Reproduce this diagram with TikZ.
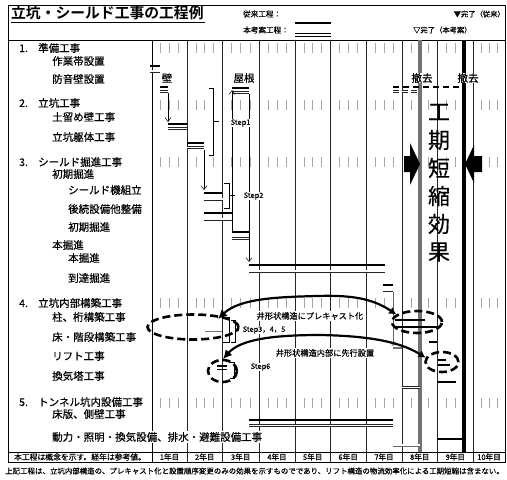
\documentclass[tikz,border=0pt]{standalone}
\usepackage{fontspec}
\setmainfont{Noto Sans CJK JP}[FakeBold=0.4]
\newfontfamily\titlefont{Noto Sans CJK JP Bold}
\usetikzlibrary{arrows.meta,shapes.geometric}
\begin{document}
\begin{tikzpicture}[x=1pt,y=-1pt,
  conv/.style={line width=1.7pt, black},
  prop/.style={line width=0.8pt, double distance=1.4pt, black!85},
  colline/.style={line width=0.7pt, black!85},
  tickln/.style={line width=0.6pt, black!35},
  lab/.style={anchor=west, inner sep=0pt, font=\fontsize{10.5}{12}\selectfont},
  smalltxt/.style={inner sep=0pt, font=\fontsize{7.6}{9}\selectfont},
  steplab/.style={inner sep=0.5pt, anchor=west, fill=white, font=\fontsize{7.4}{8}\selectfont},
  captext/.style={inner sep=1pt, fill=white, font=\fontsize{8.2}{9}\selectfont},
  depline/.style={line width=0.5pt, -{Straight Barb[length=4pt,width=6pt,line width=0.5pt]}},
  brk/.style={line width=0.8pt},
  dell/.style={draw, ellipse, inner sep=0pt, line width=2.6pt, dash pattern=on 8pt off 4pt},
  curv/.style={line width=2.2pt, {Latex[length=7pt,width=8pt]}-{Latex[length=9pt,width=9pt]}},
  marklab/.style={inner sep=0.5pt, fill=white, font=\fontsize{10.5}{12}\selectfont}
]
\useasboundingbox (0,0) rectangle (507,480);
\fill[white] (0,0) rectangle (507,480);

% frame
\draw[line width=1pt] (8,5) rectangle (505,462);
\draw[line width=0.9pt] (8,40) -- (505,40);
\draw[line width=0.8pt] (8,452) -- (505,452);
\draw[line width=0.8pt] (152,40) -- (152,462);
\foreach \cx in {187,222.5,259,295,330.5,366,402,437.5,473}
  \draw[colline] (\cx,40) -- (\cx,462);

% ticks
\foreach \a/\b in {152/187,187/222.5,222.5/259,259/295,295/330.5,330.5/366,366/402,402/437.5,437.5/473,473/505}
  \foreach \ty in {48,105,162,303,403}
    \foreach \f in {0.25,0.5,0.75}
      \draw[tickln] ({\a+(\b-\a)*\f},\ty-5) -- ++(0,10);

% title and legend
\node[anchor=west, inner sep=0pt, font=\fontsize{14.8}{16}\titlefont] (title) at (11,13) {立坑・シールド工事の工程例};
\draw[line width=1pt] (11,22.5) -- (205,22.5);
\node[smalltxt, anchor=west] (h1) at (243,14) {従来工程：};
\node[smalltxt, anchor=west] (h2) at (243,30) {本考案工程：};
\draw[line width=1.8pt] (295,23) -- (331,23);
\draw[line width=0.8pt, double distance=2.4pt] (295,35) -- (331,35);
\node[smalltxt, anchor=east, font=\fontsize{7.3}{9}\selectfont] (h3) at (505,14) {▼完了（従来）};
\node[smalltxt, anchor=west, font=\fontsize{7.3}{9}\selectfont] (h4) at (413,30) {▽完了（本考案）};

% completion lines
\draw[line width=3.4pt, black!55] (420,40) -- (420,452);
\draw[line width=3.4pt, black] (464,40) -- (464,452);

% labels
\node[lab] (s1) at (19,48) {\makebox[19pt][l]{1.}準備工事};
\node[lab] (a1) at (52,61) {作業帯設置};
\node[lab] (a2) at (52,79) {防音壁設置};
\node[lab] (s2) at (19,103) {\makebox[19pt][l]{2.}立坑工事};
\node[lab] (b1) at (52,117) {土留め壁工事};
\node[lab] (b2) at (52,137) {立坑躯体工事};
\node[lab] (s3) at (19,162) {\makebox[19pt][l]{3.}シールド掘進工事};
\node[lab] (c1) at (52,174) {初期掘進};
\node[lab] (c2) at (68,190) {シールド機組立};
\node[lab] (c3) at (68,209) {後続設備他整備};
\node[lab] (c4) at (68,227) {初期掘進};
\node[lab] (c5) at (52,245) {本掘進};
\node[lab] (c6) at (68,258) {本掘進};
\node[lab] (c7) at (68,278) {到達掘進};
\node[lab] (s4) at (19,303) {\makebox[19pt][l]{4.}立坑内部構築工事};
\node[lab] (d1) at (52,317) {柱、桁構築工事};
\node[lab] (d2) at (52,337) {床・階段構築工事};
\node[lab] (d3) at (52,356) {リフト工事};
\node[lab] (d4) at (52,376) {換気塔工事};
\node[lab] (s5) at (19,402) {\makebox[19pt][l]{5.}トンネル坑内設備工事};
\node[lab] (e1) at (52,414) {床版、側壁工事};
\node[lab, fill=white, inner sep=1pt] (e2) at (51,437) {動力・照明・換気設備、排水・避難設備工事};

% bars (conventional = solid, proposed = double)
\draw[conv] (150,66) -- (160,66);   \draw[prop] (150,71) -- (160,71);
\draw[conv] (160,87) -- (168,87);   \draw[prop] (160,91.5) -- (168,91.5);
\draw[conv] (232,88) -- (249,88);   \draw[prop] (232,92.5) -- (249,92.5);
\draw[conv] (168,124) -- (187,124); \draw[prop] (168,128.5) -- (187,128.5);
\draw[conv] (187,143) -- (204,143); \draw[prop] (187,147.5) -- (204,147.5);
\draw[conv] (204,193) -- (222,193); \draw[prop] (204,199) -- (223,199);
\draw[conv] (204,213) -- (232,213); \draw[prop] (204,219) -- (232,219);
\draw[conv] (232,232) -- (249,232); \draw[prop] (232,238.5) -- (249,238.5);
\draw[conv] (249,265) -- (385,265); \draw[prop] (249,271) -- (385,271);
\draw[conv] (383,285) -- (393,285); \draw[prop] (383,290) -- (393,290);
\draw[conv] (249,420) -- (393,420); \draw[prop] (249,425.5) -- (393,425.5);
\draw[conv] (437,439) -- (463,439); \draw[prop, black!60] (393,445) -- (420,445);
% removal of sound barrier
\draw[conv, line width=1.4pt, dash pattern=on 6pt off 4pt] (393,87) -- (463,87);
\draw[prop, dash pattern=on 6pt off 3pt] (393,91.5) -- (420,91.5);
% year 8-9 items
\draw[line width=1.1pt] (395,320) -- (425,320);
\draw[line width=1.1pt] (395,327) -- (437,327);
\draw[conv, line width=1.3pt] (429,342) -- (437,342);
\draw[line width=1.1pt] (438,360) -- (446,360);
\draw[line width=1.1pt] (438,365) -- (450,365);
\draw[conv, line width=1.3pt] (437,382) -- (456,382);
\draw[prop] (402,387.5) -- (420,387.5);
\draw[line width=1.4pt, black!55] (393,348) -- (402,348);
% year 2-3 items (Step3-6)
\draw[prop, black!55] (205,330) -- (222,330);
\draw[line width=0.9pt] (222,317) -- (229,317) -- (229,342) -- (222,342);
\draw[line width=1.1pt] (217,366) -- (227,366);
\draw[line width=1.1pt] (217,369.5) -- (227,369.5);

% dependencies
\draw[depline] (168,93) -- (168,122);
\draw[depline] (204,150) -- (204,190);
\draw[depline] (232,232) -- (232,90);
\draw[depline] (249,94) -- (249,262);
\draw[depline, black!60] (393,292) -- (393,346);

% marks
\node[marklab] (kabe) at (167,78) {壁};
\node[marklab] (yane) at (244,78) {屋根};
\node[marklab] (tk1) at (422,78) {撤去};
\node[marklab] (tk2) at (468,78) {撤去};

% step brackets
\draw[brk] (209,88) -- (213,88) -- (213,155) -- (209,155) (213,121.5) -- (219,121.5);
\node[steplab] (st1) at (230,123) {Step1};
\draw[brk] (224,183) -- (229,183) -- (229,208) -- (224,208) (229,195) -- (235,195);
\node[steplab] (st2) at (243,196) {Step2};
\draw[brk] (231,320) -- (235,320) -- (235,342) -- (231,342) (235,330) -- (239,330);
\node[steplab] (st3) at (242,330) {Step3，4，5};
\draw[brk] (230,362) -- (234,362) -- (234,378) -- (230,378) (234,369) -- (238,369);
\node[steplab] (st6) at (250,367) {Step6};

% dashed ellipses
\node[dell, minimum width=91pt, minimum height=25pt] (EL) at (193,327) {};
\node[dell, minimum width=29pt, minimum height=22pt] (ES) at (222.5,371) {};
\node[dell, minimum width=50pt, minimum height=22pt] (ER1) at (417,322) {};
\node[dell, minimum width=33pt, minimum height=20pt] (ER2) at (442,362) {};
\coordinate (t1) at (218,319);
\coordinate (t2) at (223,359);

% curved arrows
\draw[curv] (ER1.160) .. controls (372,298) and (350,295) .. (317,296) .. controls (280,297) and (240,298) .. (t1);
\node[captext] (cap1) at (310,316) {井形状構造にプレキャスト化};
\draw[curv] (ER2.165) .. controls (405,345) and (380,336) .. (320,335) .. controls (270,335) and (240,340) .. (t2);
\node[captext] (cap2) at (325,353) {井形状構造内部に先行設置};

% big arrows and text
\fill (404,156) -- (410,156) -- (410,143) -- (420,164) -- (410,185) -- (410,172) -- (404,172) -- cycle;
\fill (482,156) -- (474,156) -- (474,145) -- (465,164) -- (474,183) -- (474,172) -- (482,172) -- cycle;
\foreach \c [count=\i] in {工,期,短,縮,効,果}
  \node[inner sep=0pt, font=\fontsize{22}{22}\selectfont] (k\i) at (439,84+28*\i) {\c};

% year row
\node[smalltxt, font=\fontsize{7.8}{9}\selectfont] (note) at (80,457) {本工程は概念を示す。経年は参考値。};
\foreach \a/\b/\t [count=\i] in {152/187/1年目,187/222.5/2年目,222.5/259/3年目,259/295/4年目,295/330.5/5年目,330.5/366/6年目,366/402/7年目,402/437.5/8年目,437.5/473/9年目,473/505/10年目}
  \node[smalltxt] (yr\i) at ({(\a+\b)/2},457) {\t};

% footnote
\node[inner sep=0pt, font=\fontsize{7.45}{9}\selectfont] (foot) at (254.5,471) {上記工程は、立坑内部構造の、プレキャスト化と設置順序変更のみの効果を示すものでであり、リフト構造の物流効率化による工期短縮は含まない。};
\end{tikzpicture}
\end{document}
